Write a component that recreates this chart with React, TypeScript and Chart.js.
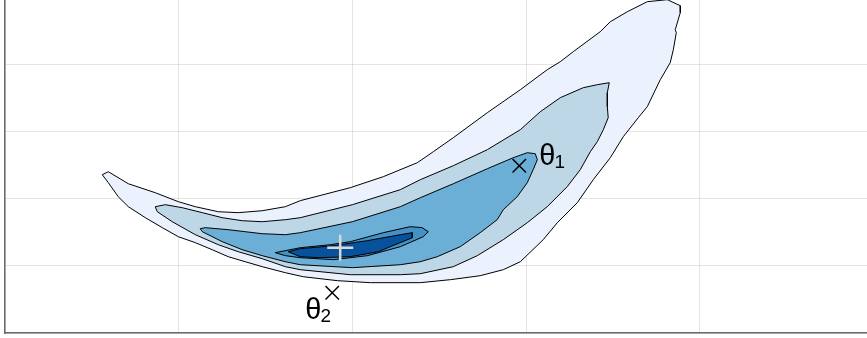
import React, { useEffect, useRef } from "react";
import { Chart, registerables } from "chart.js";

Chart.register(...registerables);

// Contour polygons (data units), outermost to innermost
const level1: number[][] = [
  [0.560, 2.363], [0.595, 2.407], [0.710, 2.228], [0.865, 2.094], [0.998, 1.960], [1.096, 1.885],
  [1.228, 1.810], [1.343, 1.796], [1.481, 1.825], [1.614, 1.885], [1.700, 1.975], [1.988, 2.169],
  [2.178, 2.333], [2.374, 2.542], [2.466, 2.706], [2.581, 2.915], [2.777, 3.288], [2.967, 3.631],
  [3.122, 3.930], [3.197, 4.049], [3.272, 4.199], [3.427, 4.497], [3.485, 4.646], [3.583, 4.795],
  [3.698, 4.945], [3.813, 4.975], [3.888, 4.885], [3.888, 4.781], [3.859, 4.527], [3.865, 4.482],
  [3.848, 4.228], [3.830, 4.034], [3.773, 3.781], [3.698, 3.378], [3.646, 3.213], [3.560, 2.930],
  [3.485, 2.616], [3.387, 2.288], [3.295, 1.945], [3.180, 1.646], [3.099, 1.393], [2.967, 1.064],
  [2.869, 0.945], [2.736, 0.855], [2.565, 0.796], [2.391, 0.751], [2.103, 0.751], [1.913, 0.781],
  [1.717, 0.840], [1.614, 0.900], [1.481, 0.990], [1.383, 1.064], [1.285, 1.139], [1.193, 1.243],
  [1.096, 1.348], [0.998, 1.437], [0.906, 1.572], [0.808, 1.721], [0.710, 1.885], [0.652, 2.034],
  [0.595, 2.243], [0.560, 2.363],
];
const level2: number[][] = [
  [0.865, 1.885], [0.923, 1.915], [1.021, 1.870], [1.136, 1.796], [1.251, 1.721], [1.366, 1.676],
  [1.481, 1.661], [1.614, 1.691], [1.700, 1.721], [2.000, 1.915], [2.276, 2.139], [2.391, 2.288],
  [2.581, 2.497], [2.777, 2.736], [2.967, 3.034], [3.082, 3.303], [3.197, 3.512], [3.329, 3.661],
  [3.410, 3.706], [3.479, 3.736], [3.468, 3.587], [3.468, 3.378], [3.473, 3.213], [3.445, 3.034],
  [3.410, 2.855], [3.370, 2.706], [3.312, 2.437], [3.237, 2.184], [3.122, 1.885], [3.007, 1.646],
  [2.869, 1.393], [2.719, 1.154], [2.581, 0.990], [2.391, 0.885], [2.276, 0.870], [1.988, 0.870],
  [1.700, 0.945], [1.614, 0.990], [1.481, 1.109], [1.343, 1.213], [1.228, 1.318], [1.096, 1.467],
  [0.963, 1.661], [0.877, 1.810], [0.865, 1.885],
];
const level3: number[][] = [
  [1.124, 1.557], [1.153, 1.572], [1.285, 1.542], [1.383, 1.512], [1.481, 1.482], [1.614, 1.467],
  [1.700, 1.497], [2.000, 1.661], [2.276, 1.885], [2.391, 2.019], [2.581, 2.228], [2.777, 2.452],
  [2.926, 2.616], [3.007, 2.691], [3.053, 2.676], [3.065, 2.587], [3.041, 2.437], [3.007, 2.243],
  [2.949, 2.034], [2.869, 1.840], [2.834, 1.691], [2.736, 1.497], [2.621, 1.288], [2.489, 1.139],
  [2.391, 1.064], [2.276, 1.019], [2.000, 0.975], [1.700, 1.019], [1.614, 1.064], [1.481, 1.154],
  [1.366, 1.243], [1.251, 1.363], [1.136, 1.512], [1.124, 1.557],
];
const level4: number[][] = [
  [1.556, 1.199], [1.700, 1.273], [1.873, 1.318], [1.988, 1.363], [2.178, 1.497], [2.333, 1.587],
  [2.402, 1.572], [2.437, 1.512], [2.408, 1.437], [2.276, 1.288], [2.086, 1.154], [1.890, 1.094],
  [1.700, 1.124], [1.614, 1.154], [1.556, 1.199],
];
const level5: number[][] = [
  [1.631, 1.213], [1.700, 1.258], [1.890, 1.303], [2.086, 1.378], [2.276, 1.467], [2.345, 1.497],
  [2.345, 1.422], [2.218, 1.288], [2.149, 1.213], [1.988, 1.139], [1.815, 1.124], [1.700, 1.139],
  [1.631, 1.213],
];

const levelColors = ["#ecf2fd", "#bed7e6", "#6baed6", "#4292c6", "#08519c"];

// Markers
const thetaPoints: number[][] = [[2.961, 2.497], [1.884, 0.601]];
const meanPoint: number[][] = [[1.930, 1.273]];

// Labels (left/baseline position in data units)
const labelMain = ["θ", "θ"];
const labelSub = ["1", "2"];
const labelX = [3.076, 1.729];
const labelY = [2.512, 0.213];

const xMin = 0;
const xMax = 4.963;
const yMin = 0;
const yMax = 4.97;

const toXY = (arr: number[][]) => arr.map(([x, y]) => ({ x, y }));

const labelPlugin = {
  id: "thetaLabels",
  afterDatasetsDraw(chart: any) {
    const ctx = chart.ctx;
    const xs = chart.scales.x;
    const ys = chart.scales.y;
    ctx.save();
    ctx.fillStyle = "#000";
    ctx.textBaseline = "alphabetic";
    ctx.textAlign = "left";
    for (let i = 0; i < labelMain.length; i++) {
      const px = xs.getPixelForValue(labelX[i]);
      const py = ys.getPixelForValue(labelY[i]);
      ctx.font = "29px 'Liberation Sans', Arial, sans-serif";
      ctx.fillText(labelMain[i], px, py);
      const w = ctx.measureText(labelMain[i]).width;
      ctx.font = "19px 'Liberation Sans', Arial, sans-serif";
      ctx.fillText(labelSub[i], px + w - 1, py + 3);
    }
    ctx.restore();
  },
};

export default function App() {
  const ref = useRef<HTMLCanvasElement>(null);
  useEffect(() => {
    document.body.style.margin = "0";
    if (!ref.current) return;
    const levels = [level1, level2, level3, level4, level5];
    const contourSets = levels.map((lv, i) => ({
      data: toXY(lv),
      showLine: true,
      fill: "shape",
      backgroundColor: levelColors[i],
      borderColor: "#000",
      borderWidth: 1,
      tension: 0,
      pointRadius: 0,
      order: 10 - i,
    }));
    const chart = new Chart(ref.current, {
      type: "scatter",
      data: {
        datasets: [
          ...contourSets,
          {
            data: toXY(meanPoint),
            pointStyle: "cross",
            pointRadius: 13,
            borderColor: "#d8d8d8",
            borderWidth: 2.5,
            backgroundColor: "#d8d8d8",
            order: 2,
          },
          {
            data: toXY(thetaPoints),
            pointStyle: "crossRot",
            pointRadius: 9.5,
            borderColor: "#000",
            borderWidth: 1.5,
            backgroundColor: "#000",
            order: 1,
          },
        ] as any,
      },
      options: {
        responsive: false,
        animation: false,
        devicePixelRatio: 1,
        layout: { autoPadding: false, padding: { left: 5, bottom: 5, top: 0, right: 0 } },
        plugins: { legend: { display: false }, tooltip: { enabled: false } },
        scales: {
          x: {
            type: "linear",
            min: xMin,
            max: xMax,
            z: 1,
            ticks: { display: false, stepSize: 1, includeBounds: false },
            grid: { color: "rgba(170,170,170,0.32)", lineWidth: 1, drawTicks: false },
            border: { display: true, color: "#6a6a6a", width: 1.5 },
          },
          y: {
            type: "linear",
            min: yMin,
            max: yMax,
            z: 1,
            ticks: { display: false, stepSize: 1, includeBounds: false },
            grid: { color: "rgba(170,170,170,0.32)", lineWidth: 1, drawTicks: false },
            border: { display: true, color: "#6a6a6a", width: 1.5 },
          },
        },
      } as any,
      plugins: [labelPlugin],
    });
    return () => chart.destroy();
  }, []);
  return (
    <div style={{ position: "absolute", left: 0, top: 0, width: 867, height: 338 }}>
      <canvas ref={ref} width={867} height={338} style={{ display: "block" }} />
    </div>
  );
}
